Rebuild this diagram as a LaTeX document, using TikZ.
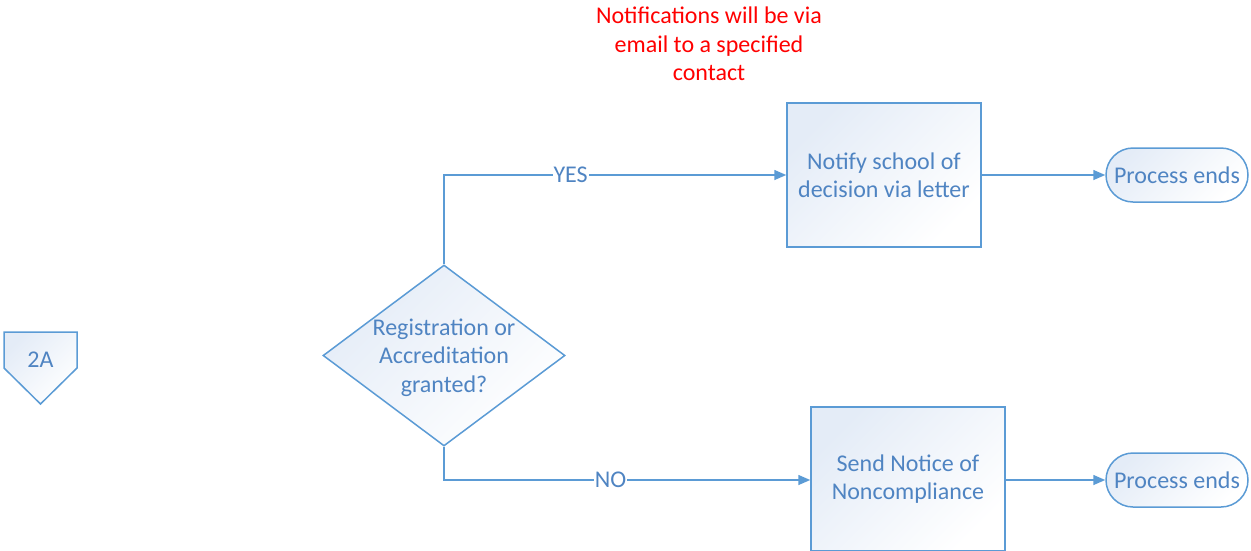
\documentclass[tikz,border=0pt]{standalone}
\usepackage{fontspec}
\setmainfont{Carlito}
\usetikzlibrary{shapes.geometric,shapes.misc,arrows.meta}
\definecolor{lineblue}{HTML}{5B9BD5}
\definecolor{textblue}{HTML}{4F84C2}
\definecolor{shadeblue}{HTML}{E4ECF7}
\tikzset{
  shapefill/.style={draw=lineblue, line width=1.5pt, top color=shadeblue, bottom color=white, shading angle=45},
  label text/.style={text=textblue, font=\fontsize{24}{28.5}\selectfont, align=center},
  procbox/.style={shapefill, rectangle, minimum width=194pt, minimum height=144pt, inner sep=0pt, label text},
  terminal/.style={shapefill, rounded rectangle, minimum width=142pt, minimum height=54pt, inner sep=0pt, label text},
  decision/.style={shapefill, diamond, minimum width=242pt, minimum height=181pt, inner sep=0pt},
  conn/.style={draw=lineblue, line width=1.5pt, -{Triangle[length=12pt,width=10pt]}},
  edgetext/.style={fill=white, inner sep=1pt, label text},
  note/.style={text=red, font=\fontsize{24}{28.5}\selectfont, align=center}
}
\begin{document}
\begin{tikzpicture}[x=1pt, y=-1pt]
\useasboundingbox (0,0) rectangle (1251,550);

% off-page reference
\path[shapefill] (4,332) -- (77,332) -- (77,368) -- (40.5,404) -- (4,368) -- cycle;
\node[label text, anchor=base] (ref) at (40.5,367) {2A};

% decision
\node[decision] (dec) at (444,355.5) {};
\node[label text] (dectext) at ([yshift=-2pt]dec.center) {Registration or\\Accreditation\\granted?};

% process steps
\node[procbox] (notify) at (884,175) {Notify school of\\decision via letter};
\node[procbox] (notice) at (908,479) {Send Notice of\\Noncompliance};

% terminators
\node[terminal] (end1) at (1177,175) {Process ends};
\node[terminal] (end2) at (1177,480) {Process ends};

% annotation
\node[note] (mail) at (709,44) {Notifications will be via\\email to a specified\\contact};

% connectors
\draw[conn] (dec.north) |- (notify.west) node[edgetext, pos=0.685] (yes) {YES};
\draw[conn] (dec.south) |- ([yshift=-1pt]notice.west) node[edgetext, pos=0.7275] (no) {NO};
\draw[conn] (notify.east) -- (end1.west);
\draw[conn] (notice.east |- end2.west) -- (end2.west);
\end{tikzpicture}
\end{document}
